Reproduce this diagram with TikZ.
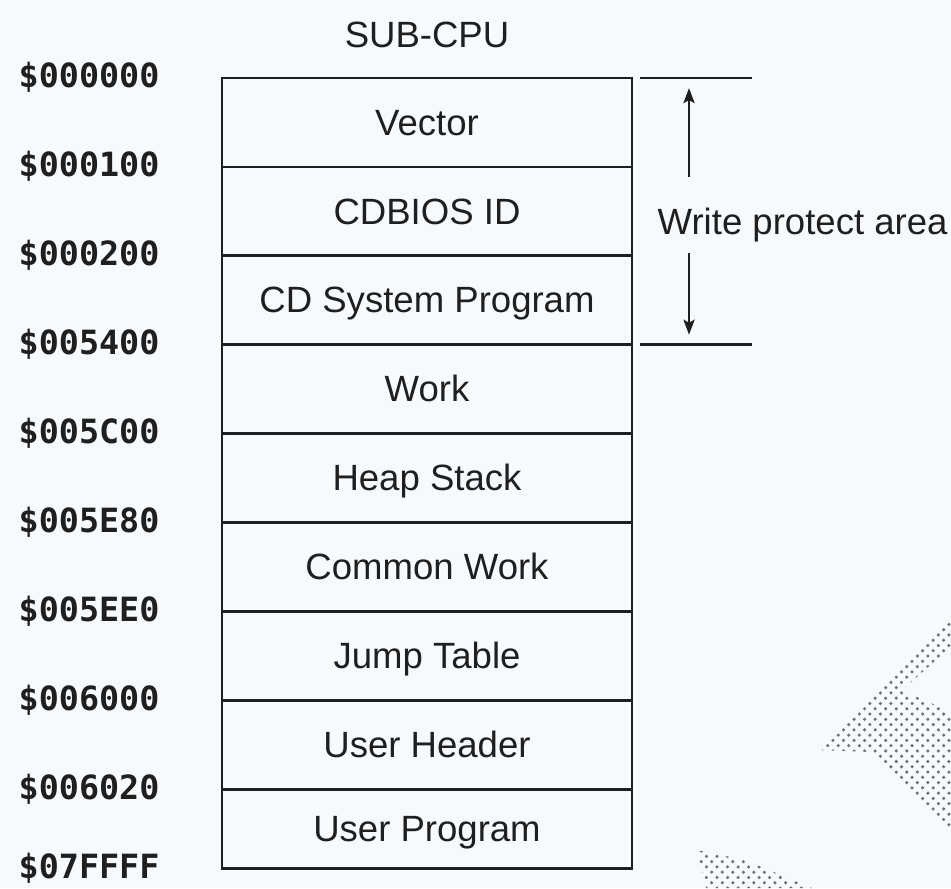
\documentclass[tikz,border=0pt]{standalone}
\usepackage{fontspec}
\setmainfont{Liberation Sans}
\newfontfamily\addrfont{DejaVu Sans Mono}
\usetikzlibrary{positioning,arrows.meta,calc,patterns}
\definecolor{figpaper}{RGB}{247,250,253}
\definecolor{figink}{gray}{0.12}
\definecolor{figdots}{gray}{0.45}
\tikzset{
  fig/.style={font=\fontsize{10.4}{12}\selectfont,color=figink},
  cell/.style={draw,line width=0.8pt,minimum width=41mm,minimum height=8.89mm,
               inner sep=0pt,outer sep=0pt,align=center,text height=0.72em,text depth=0pt},
  addr/.style={font=\addrfont\bfseries\fontsize{9.5}{11}\selectfont,anchor=west,
               inner sep=0pt,yshift=0.05mm},
  ln/.style={-{Stealth[length=1.5mm,width=1.1mm,inset=0.3mm]},line width=0.8pt},
  wpline/.style={line width=0.8pt},
  lbl/.style={inner sep=0pt},
}

\begin{document}
\begin{tikzpicture}[fig,
  dotarea/.style={pattern=crosshatch dots,pattern color=figdots}]
\fill[figpaper] (0,0) rectangle (95.1mm,88.8mm);
\useasboundingbox (0,0) rectangle (95.1mm,88.8mm);

% halftone marks of the page
\fill[dotarea] (81.7mm,13.8mm) -- (95.1mm,26.8mm) -- (95.1mm,24.1mm) -- (90.2mm,19.8mm)
   -- (95.1mm,17.6mm) -- (95.1mm,5.8mm) -- (87.2mm,13.6mm) -- cycle;
\fill[dotarea] (69.7mm,3.8mm) -- (74.5mm,2.8mm) -- (81.2mm,0mm) -- (70.6mm,0mm) -- cycle;

% memory map
\node[cell] (vec) at (42.7mm,76.55mm) {Vector};
\node[cell,below=0pt of vec] (bios) {CDBIOS ID};
\node[cell,below=0pt of bios] (sys) {CD System Program};
\node[cell,below=0pt of sys] (work) {Work};
\node[cell,below=0pt of work] (heap) {Heap Stack};
\node[cell,below=0pt of heap] (cwork) {Common Work};
\node[cell,below=0pt of cwork] (jump) {Jump Table};
\node[cell,below=0pt of jump] (uhead) {User Header};
\node[cell,below=0pt of uhead,minimum height=7.9mm] (uprog) {User Program};

\node[lbl,above=2.9mm of vec] (cpu) {SUB-CPU};

% addresses
\coordinate (ax) at (1.8mm,0);
\node[addr] (a0) at (vec.north -| ax) {\$000000};
\node[addr] (a1) at (bios.north -| ax) {\$000100};
\node[addr] (a2) at (sys.north -| ax) {\$000200};
\node[addr] (a3) at (work.north -| ax) {\$005400};
\node[addr] (a4) at (heap.north -| ax) {\$005C00};
\node[addr] (a5) at (cwork.north -| ax) {\$005E80};
\node[addr] (a6) at (jump.north -| ax) {\$005EE0};
\node[addr] (a7) at (uhead.north -| ax) {\$006000};
\node[addr] (a8) at (uprog.north -| ax) {\$006020};
\node[addr] (a9) at (uprog.south -| ax) {\$07FFFF};

% write protect area
\coordinate (wp0) at ($(vec.north east)+(0.8mm,0)$);
\coordinate (wp1) at ($(sys.south east)+(0.8mm,0)$);
\draw[wpline] (wp0) -- ++(11.2mm,0);
\draw[wpline] (wp1) -- ++(11.2mm,0);
\node[lbl,anchor=base west] (wpa) at ($(wp0)!0.5!(wp1)+(1.7mm,-2.35mm)$) {Write protect area};
\coordinate (up0) at ($(wp0)+(4.9mm,-9.9mm)$);
\coordinate (up1) at ($(wp0)+(4.9mm,-1.0mm)$);
\coordinate (dn0) at ($(wp1)+(4.9mm,9.2mm)$);
\coordinate (dn1) at ($(wp1)+(4.9mm,1.0mm)$);
\draw[ln] (up0) -- (up1);
\draw[ln] (dn0) -- (dn1);
\end{tikzpicture}
\end{document}
